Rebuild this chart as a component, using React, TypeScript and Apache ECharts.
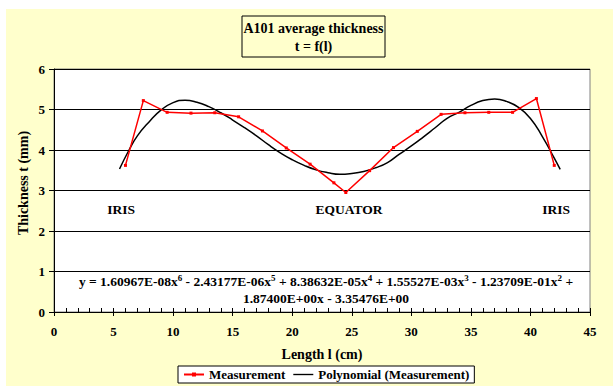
import { useEffect, useRef } from "react";
import * as echarts from "echarts";

// Measured points (length in cm, thickness in mm)
const lengthCm = [6, 7.5, 9.5, 11.5, 13.5, 15.5, 17.5, 19.5, 21.5, 23.5, 24.5, 26.5, 28.5, 30.5, 32.5, 34.5, 36.5, 38.5, 40.5, 42];
const thickness = [3.62, 5.22, 4.93, 4.91, 4.92, 4.82, 4.47, 4.05, 3.65, 3.19, 2.95, 3.49, 4.06, 4.46, 4.88, 4.92, 4.93, 4.93, 5.27, 3.62];

// Polynomial trend line
const fitLength = [5.5, 6.3, 7, 8, 9, 10, 11, 12, 13, 14, 15, 16, 17, 18, 19, 20, 21, 22, 23, 24, 25, 26, 27, 28, 29, 30, 31, 32, 33, 34, 35, 36, 37, 38, 39, 40, 41, 42, 42.5];
const fitThickness = [3.53, 4.0, 4.35, 4.7, 4.99, 5.17, 5.23, 5.18, 5.07, 4.92, 4.74, 4.55, 4.35, 4.13, 3.93, 3.76, 3.62, 3.51, 3.44, 3.4, 3.42, 3.47, 3.56, 3.69, 3.9, 4.1, 4.32, 4.55, 4.78, 4.93, 5.1, 5.22, 5.26, 5.2, 5.05, 4.78, 4.33, 3.8, 3.52];

const titleLines = ["A101 average thickness", "t = f(l)"];
const yAxisTitle = "Thickness t (mm)";
const xAxisTitle = "Length l (cm)";
const seriesNames = ["Measurement", "Polynomial (Measurement)"];
const annotations = ["IRIS", "EQUATOR", "IRIS"];

const FONT = "Liberation Serif";
const YELLOW = "#FFFFCC";

export default function App() {
  const ref = useRef<HTMLDivElement>(null);
  useEffect(() => {
    const chart = echarts.init(ref.current!, null, { renderer: "svg" });
    const measured = lengthCm.map((x, i) => [x, thickness[i]]);
    const fitted = fitLength.map((x, i) => [x, fitThickness[i]]);
    const txt = (size: number) => ({ fontFamily: FONT, fontWeight: "bold" as const, fontSize: size, color: "#000" });
    const blackLine = { color: "#000", width: 1 };
    const labelStyle = (text: string, size: number) => ({
      text,
      align: "center",
      verticalAlign: "middle",
      fontFamily: FONT,
      fontWeight: "bold",
      fontSize: size,
      fill: "#000",
    });

    chart.setOption({
      animation: false,
      backgroundColor: "#ffffff",
      textStyle: { fontFamily: FONT },
      grid: {
        left: 54,
        top: 69,
        right: 23,
        bottom: 74,
        show: true,
        backgroundColor: "#ffffff",
        borderColor: "#808080",
        borderWidth: 1,
      },
      xAxis: [
        {
          type: "value",
          min: 0,
          max: 45,
          interval: 5,
          position: "bottom",
          name: xAxisTitle,
          nameLocation: "middle",
          nameGap: 35,
          nameTextStyle: txt(14),
          axisLine: { show: true, onZero: false, lineStyle: blackLine },
          axisTick: { show: true, inside: false, length: 4, lineStyle: blackLine },
          axisLabel: { margin: 13, ...txt(13) },
          splitLine: { show: false },
        },
        {
          type: "value",
          min: 0,
          max: 45,
          interval: 5,
          position: "bottom",
          axisLine: { show: false },
          axisTick: { show: true, inside: true, length: 4, lineStyle: blackLine },
          minorTick: { show: true, splitNumber: 5, length: 4, lineStyle: blackLine },
          axisLabel: { show: false },
          splitLine: { show: false },
        },
      ],
      yAxis: {
        type: "value",
        min: 0,
        max: 6,
        interval: 1,
        axisLine: { show: true, lineStyle: blackLine },
        axisTick: { show: true, inside: false, length: 5, lineStyle: blackLine },
        axisLabel: { margin: 9, ...txt(13) },
        splitLine: { show: true, lineStyle: blackLine },
      },
      legend: {
        left: 178,
        top: 366,
        padding: [2, 5],
        itemGap: 8,
        itemWidth: 20,
        itemHeight: 5,
        borderColor: "#000",
        borderWidth: 1,
        backgroundColor: "#ffffff",
        textStyle: txt(13),
        data: [
          { name: seriesNames[0] },
          { name: seriesNames[1], icon: "path://M0,0 L22,0 L22,1.5 L0,1.5 Z" },
        ],
      },
      series: [
        {
          name: seriesNames[0],
          type: "line",
          data: measured,
          symbol: "rect",
          symbolSize: 3,
          itemStyle: { color: "#FF0000" },
          lineStyle: { color: "#FF0000", width: 1.5 },
          z: 3,
        },
        {
          name: seriesNames[1],
          type: "line",
          data: fitted,
          smooth: true,
          symbol: "none",
          itemStyle: { color: "#000" },
          lineStyle: { color: "#000", width: 1.5 },
          z: 2,
        },
      ],
      graphic: [
        {
          type: "rect",
          z: -10,
          silent: true,
          shape: { x: 6, y: 9, width: 607, height: 377 },
          style: { fill: YELLOW },
        },
        {
          type: "rect",
          z: 100,
          shape: { x: 242, y: 16, width: 143, height: 41 },
          style: { fill: YELLOW, stroke: "#000", lineWidth: 1 },
        },
        {
          type: "text",
          z: 101,
          x: 313.5,
          y: 37.5,
          style: { ...labelStyle(titleLines.join("\n"), 14), lineHeight: 18 },
        },
        {
          type: "text",
          z: 101,
          x: 23,
          y: 183,
          rotation: Math.PI / 2,
          style: labelStyle(yAxisTitle, 14),
        },
        { type: "text", z: 101, x: 121, y: 209, style: labelStyle(annotations[0], 13.5) },
        { type: "text", z: 101, x: 349, y: 209, style: labelStyle(annotations[1], 13.5) },
        { type: "text", z: 101, x: 556, y: 209, style: labelStyle(annotations[2], 13.5) },
        {
          type: "text",
          z: 101,
          x: 326,
          y: 290,
          style: {
            text:
              "{n|y = 1.60967E-08x}{s|6}{n| - 2.43177E-06x}{s|5}{n| + 8.38632E-05x}{s|4}{n| + 1.55527E-03x}{s|3}{n| - 1.23709E-01x}{s|2}{n| +}\n{n|1.87400E+00x - 3.35476E+00}",
            align: "center",
            verticalAlign: "middle",
            fill: "#000",
            fontFamily: FONT,
            rich: {
              n: { fontFamily: FONT, fontWeight: "bold", fontSize: 13.5, lineHeight: 17, fill: "#000" },
              s: { fontFamily: FONT, fontWeight: "bold", fontSize: 9, lineHeight: 9, verticalAlign: "top", fill: "#000" },
            },
          },
        },
      ],
    });
    return () => chart.dispose();
  }, []);
  return <div ref={ref} style={{ position: "fixed", left: 0, top: 0, width: 613, height: 386 }} />;
}
